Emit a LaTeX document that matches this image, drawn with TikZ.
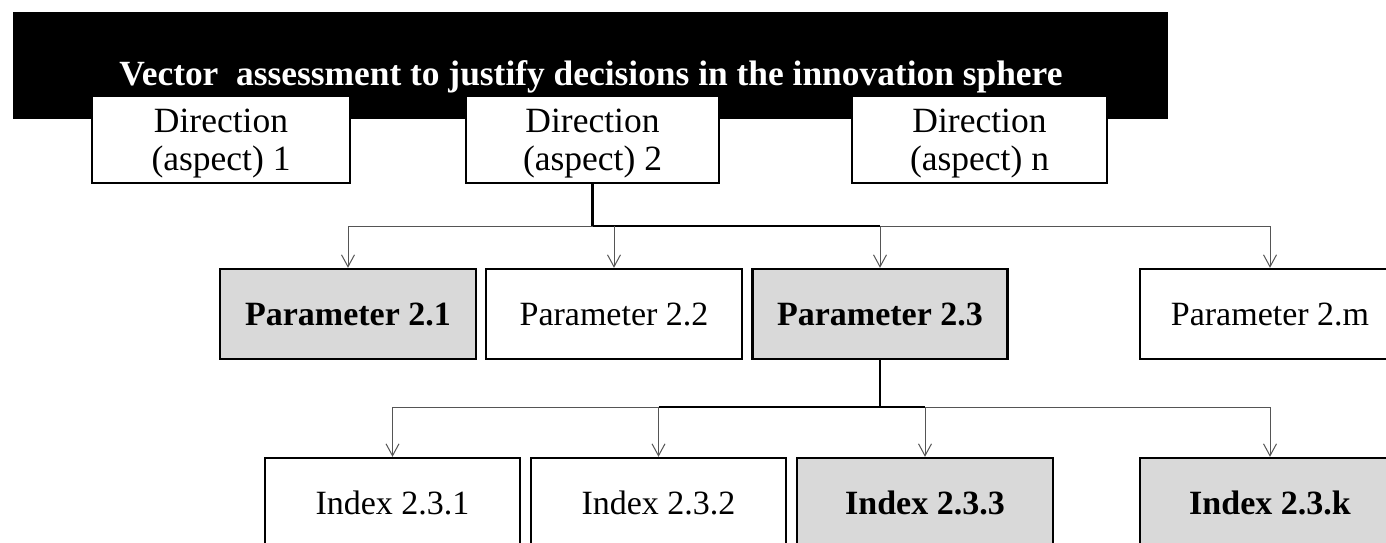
\documentclass[tikz,border=0pt]{standalone}
\usepackage{fontspec}
\setmainfont{Liberation Serif}
\usetikzlibrary{arrows.meta}
\definecolor{boxgray}{HTML}{D9D9D9}
\definecolor{linegray}{HTML}{555555}
\newcommand{\topstrut}{\rule{0pt}{32pt}}
\tikzset{
  box/.style={draw=black, line width=2.4pt, fill=white, inner sep=0pt, align=center,
    font=\fontsize{34}{40}\selectfont},
  dirbox/.style={box, minimum height=87pt, font=\fontsize{35.5}{38}\selectfont},
  parbox/.style={box, minimum height=90pt},
  hibox/.style={fill=boxgray, font=\fontsize{34}{40}\selectfont\bfseries},
  conn/.style={draw=linegray, line width=1pt},
  arr/.style={conn, -{Straight Barb[length=12pt,width=13pt,line width=1pt]}},
  stem/.style={draw=black, line width=2.4pt},
  dark/.style={draw=black, line width=1.8pt}
}
\begin{document}
\begin{tikzpicture}[x=1pt,y=-1pt]
\clip (0,0) rectangle (1386,542);
\fill[white] (0,0) rectangle (1386,542);
% banner
\node[fill=black, draw=black, inner sep=0pt, minimum width=1154pt, minimum height=106pt] (banner) at (590,65) {};
\node[text=white, font=\fontsize{35.4}{40}\selectfont\bfseries, anchor=base] (title) at (591,85) {Vector\ \ assessment to justify decisions in the innovation sphere};
% directions
\node[dirbox, minimum width=258pt] (d1) at (221,139.5) {\topstrut Direction\\(aspect) 1};
\node[dirbox, minimum width=253pt] (d2) at (592.5,139.5) {\topstrut Direction\\(aspect) 2};
\node[dirbox, minimum width=255pt] (dn) at (979.5,139.5) {\topstrut Direction\\(aspect) n};
% parameters
\node[parbox, hibox, minimum width=256pt] (p1) at (348,314) {Parameter 2.1};
\node[parbox, minimum width=256pt] (p2) at (614,314) {Parameter 2.2};
\node[parbox, hibox, minimum width=255pt] (p3) at (880,314) {Parameter 2.3};
\node[parbox, minimum width=260pt] (pm) at (1270,314) {Parameter 2.m};
% indices
\node[parbox, minimum width=255pt] (i1) at (392.5,503) {Index 2.3.1};
\node[parbox, minimum width=255pt] (i2) at (658.5,503) {Index 2.3.2};
\node[parbox, hibox, minimum width=256pt] (i3) at (925,503) {Index 2.3.3};
\node[parbox, hibox, minimum width=260pt] (ik) at (1270,503) {Index 2.3.k};
% level 1 connectors
\coordinate (j1) at (592.5,226);
\draw[stem] (d2.south) -- (j1);
\draw[conn] (p1.north |- j1) -- (pm.north |- j1);
\draw[dark] (j1) -- (p3.north |- j1);
\foreach \t in {p1,p2,p3,pm}{
  \draw[arr] (\t.north |- j1) -- (\t.north);
}
% level 2 connectors
\coordinate (j2) at (880,407);
\draw[stem] (p3.south) -- (j2);
\draw[conn] (i1.north |- j2) -- (ik.north |- j2);
\draw[dark] (i2.north |- j2) -- (i3.north |- j2);
\foreach \t in {i1,i2,i3,ik}{
  \draw[arr] (\t.north |- j2) -- (\t.north);
}
\end{tikzpicture}
\end{document}
